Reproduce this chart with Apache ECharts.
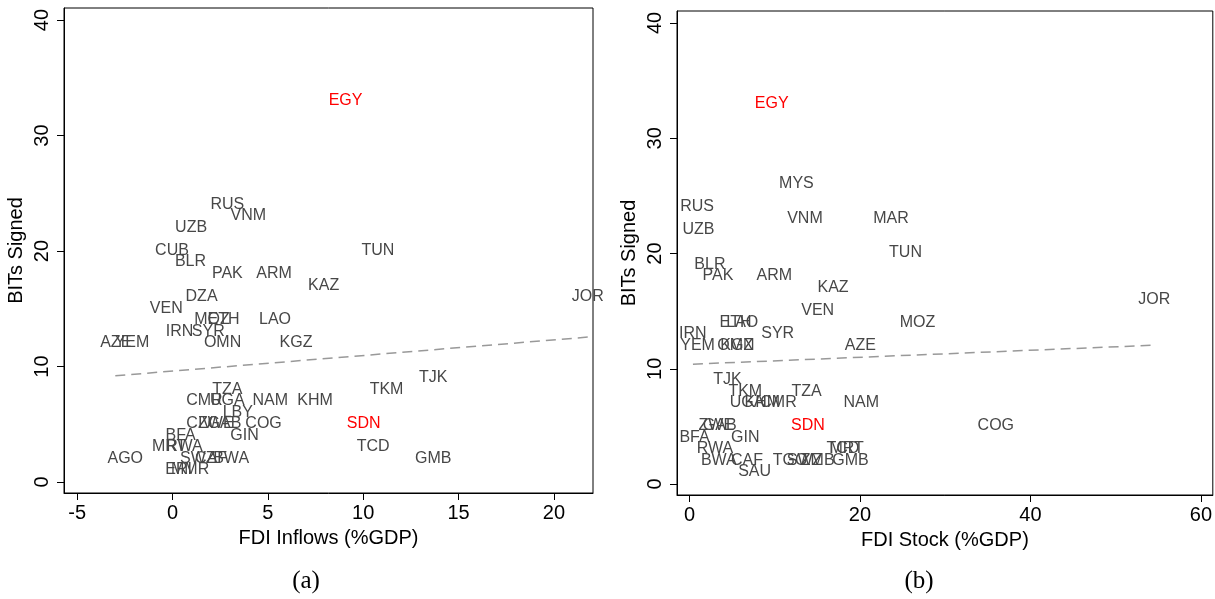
<!DOCTYPE html>
<html><head><meta charset="utf-8">
<script src="https://cdn.jsdelivr.net/npm/echarts@6/dist/echarts.min.js"></script>
<style>html,body{margin:0;padding:0;background:#fff}#c{width:1215px;height:599px}</style>
</head><body><div id="c"></div>
<script>
// Panel (a): FDI inflows vs BITs signed
const codesA = ['EGY','RUS','VNM','UZB','CUB','BLR','PAK','ARM','TUN','KAZ','JOR','DZA','VEN','MOZ','ETH','LAO','IRN','SYR','AZE','YEM','OMN','KGZ','TJK','TZA','TKM','CMR','UGA','NAM','KHM','LBY','CIV','ZWE','GAB','COG','SDN','BFA','GIN','MRT','RWA','TCD','AGO','SWZ','CAF','BWA','GMB','ERI','MMR'];
const fdiInflows = [9.1,2.9,4.0,1.0,0.0,0.97,2.9,5.35,10.8,7.95,21.8,1.55,-0.3,2.1,2.7,5.4,0.4,1.9,-2.95,-2.1,2.65,6.5,13.7,2.9,11.25,1.7,2.9,5.15,7.5,3.45,1.45,2.3,2.75,4.8,10.05,0.45,3.8,-0.15,0.65,10.55,-2.45,1.35,2.05,3.1,13.7,0.35,0.95];
const bitsA = [33,24,23,22,20,19,18,18,20,17,16,16,15,14,14,14,13,13,12,12,12,12,9,8,8,7,7,7,7,6,5,5,5,5,5,4,4,3,3,3,2,2,2,2,2,1,1];
// Panel (b): FDI stock vs BITs signed
const codesB = ['EGY','MYS','RUS','UZB','VNM','MAR','TUN','BLR','PAK','ARM','KAZ','JOR','VEN','MOZ','ETH','LAO','SYR','IRN','YEM','OMN','KGZ','AZE','TJK','TKM','TZA','UGA','KHM','CMR','NAM','SDN','COG','ZWE','GAB','BFA','GIN','RWA','TCD','MRT','BWA','CAF','TGO','SWZ','ZMB','GMB','SAU'];
const fdiStock = [9.7,12.6,0.95,1.1,13.6,23.7,25.4,2.45,3.4,10.0,16.9,54.6,15.1,26.8,5.45,6.25,10.4,0.45,1.0,5.5,5.6,20.1,4.5,6.6,13.8,6.8,8.6,10.5,20.2,13.95,36.0,3.2,3.6,0.65,6.6,3.05,18.05,18.5,3.5,6.8,11.85,13.55,15.1,18.95,7.7];
const bitsB = [33,26,24,22,23,23,20,19,18,18,17,16,15,14,14,14,13,13,12,12,12,12,9,8,8,7,7,7,7,5,5,5,5,4,4,3,3,3,2,2,2,2,2,2,1];
// Fitted lines (endpoints)
const fitAx = [-3.0, 21.8], fitAy = [9.2, 12.55];
const fitBx = [0.4, 54.6], fitBy = [10.4, 12.05];
const highlighted = ['EGY','SDN'];
const ticksAx = [-5,0,5,10,15,20];
const ticksBx = [0,20,40,60];
const ticksY = [0,10,20,30,40];

const FONT = 'Liberation Sans, Arial, sans-serif';
const chart = echarts.init(document.getElementById('c'), null, {renderer:'canvas'});

function pts(codes, xs, ys){
  return codes.map((c,i)=>({
    value:[xs[i], ys[i]], name:c,
    label: highlighted.includes(c) ? {color:'#ff0000'} : undefined
  }));
}
function xAxisCfg(idx, min, max, ticks, name){
  return {gridIndex:idx, type:'value', min:min, max:max,
    axisLine:{show:true, onZero:false, lineStyle:{color:'#000', width:1}},
    axisTick:{show:true, length:7, customValues:ticks, lineStyle:{color:'#000', width:1}},
    axisLabel:{customValues:ticks, fontSize:20, color:'#000', fontFamily:FONT, margin:10},
    splitLine:{show:false},
    name:name, nameLocation:'middle', nameGap:35,
    nameTextStyle:{fontSize:20, color:'#000', fontFamily:FONT}};
}
function yAxisCfg(idx, min, max){
  return {gridIndex:idx, type:'value', min:min, max:max,
    axisLine:{show:true, onZero:false, lineStyle:{color:'#000', width:1}},
    axisTick:{show:true, length:7, customValues:ticksY, lineStyle:{color:'#000', width:1}},
    axisLabel:{customValues:ticksY, fontSize:20, color:'#000', fontFamily:FONT, rotate:90, margin:12},
    splitLine:{show:false},
    name:'BITs Signed', nameLocation:'middle', nameGap:38,
    nameTextStyle:{fontSize:20, color:'#000', fontFamily:FONT}};
}
function labelSeries(idx, codes, xs, ys){
  return {type:'scatter', xAxisIndex:idx, yAxisIndex:idx, silent:true,
    symbolSize:1, itemStyle:{color:'rgba(0,0,0,0)', opacity:1},
    data: pts(codes, xs, ys),
    label:{show:true, position:[0,0], align:'center', verticalAlign:'middle', opacity:1,
      formatter:'{b}', fontSize:16, fontFamily:FONT, color:'#474747', textBorderWidth:0},
    labelLayout:{hideOverlap:false}, z:3};
}
function fitSeries(idx, xs, ys){
  return {type:'line', xAxisIndex:idx, yAxisIndex:idx, silent:true, symbol:'none',
    data: xs.map((x,i)=>[x, ys[i]]),
    lineStyle:{color:'#999999', width:1.5, type:[10,6]}, z:2};
}

chart.setOption({
  animation:false,
  backgroundColor:'#fff',
  grid:[
    {left:64, top:8, width:529, height:485, show:true, borderColor:'#000', borderWidth:1, containLabel:false},
    {left:677, top:11, width:536, height:484, show:true, borderColor:'#000', borderWidth:1, containLabel:false}
  ],
  xAxis:[
    xAxisCfg(0, -5.69, 22.05, ticksAx, 'FDI Inflows (%GDP)'),
    xAxisCfg(1, -1.47, 61.4, ticksBx, 'FDI Stock (%GDP)')
  ],
  yAxis:[ yAxisCfg(0, -0.95, 41.04), yAxisCfg(1, -0.95, 41.04) ],
  series:[
    fitSeries(0, fitAx, fitAy),
    labelSeries(0, codesA, fdiInflows, bitsA),
    fitSeries(1, fitBx, fitBy),
    labelSeries(1, codesB, fdiStock, bitsB)
  ],
  graphic:[
    {type:'text', style:{text:'(a)', x:306, y:581, font:'25px "Liberation Serif", "Times New Roman", serif', fill:'#000', align:'center', verticalAlign:'middle'}},
    {type:'text', style:{text:'(b)', x:919, y:581, font:'25px "Liberation Serif", "Times New Roman", serif', fill:'#000', align:'center', verticalAlign:'middle'}}
  ]
});
</script></body></html>
